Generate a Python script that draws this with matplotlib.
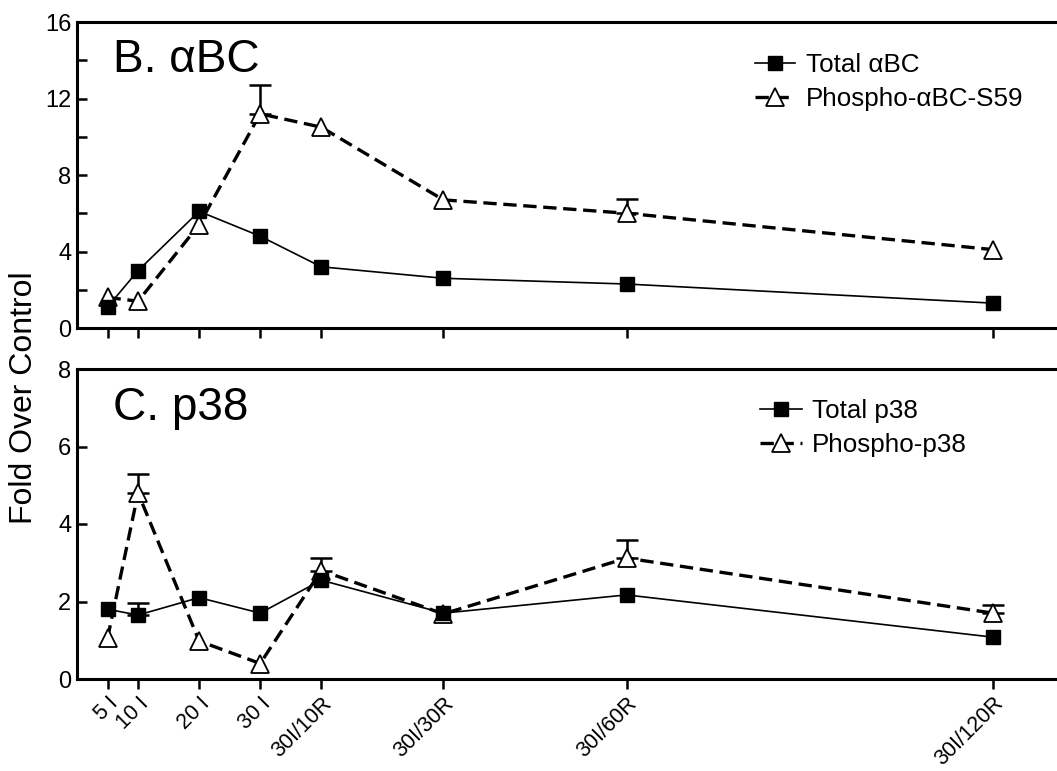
import numpy as np
import matplotlib
matplotlib.use('Agg')
import matplotlib.pyplot as plt

plt.rcParams['font.family'] = ['Liberation Sans', 'DejaVu Sans']

# time points in minutes (ischemia / reperfusion)
minutes = [5, 10, 20, 30, 40, 60, 90, 150]
tick_labels = ['5 I', '10 I', '20 I', '30 I', '30I/10R', '30I/30R', '30I/60R', '30I/120R']

# panel B: alpha B-crystallin
total_abc = [1.1, 3.0, 6.1, 4.8, 3.2, 2.6, 2.3, 1.3]
total_abc_err = [0, 0, 0, 0, 0, 0, 0, 0]
phospho_abc = [1.6, 1.4, 5.4, 11.2, 10.5, 6.7, 6.0, 4.1]
phospho_abc_err = [0, 0, 0, 1.5, 0, 0, 0.75, 0]

# panel C: p38
total_p38 = [1.8, 1.65, 2.1, 1.7, 2.55, 1.7, 2.17, 1.08]
total_p38_err = [0, 0.3, 0, 0, 0, 0, 0, 0]
phospho_p38 = [1.05, 4.8, 0.98, 0.4, 2.8, 1.68, 3.12, 1.7]
phospho_p38_err = [0, 0.5, 0, 0, 0.32, 0, 0.48, 0.2]


def draw_panel(ax, total, total_err, phos, phos_err, title, labels, ymax, major, minor):
    x = np.array(minutes)
    # error bars (upper only), drawn only where visible
    for vals, errs in ((phos, phos_err), (total, total_err)):
        vals = np.array(vals)
        errs = np.array(errs)
        m = errs > 0
        if m.any():
            ax.errorbar(x[m], vals[m], yerr=[np.zeros(m.sum()), errs[m]], fmt='none',
                        ecolor='black', elinewidth=1.8, capsize=8, capthick=1.8, zorder=2)
    lp, = ax.plot(x, phos, color='black', lw=2.4, marker='^', markersize=13,
                  markerfacecolor='white', markeredgecolor='black', markeredgewidth=1.3,
                  zorder=3, label=labels[1])
    lp.set_dashes([4, 2])
    lt, = ax.plot(x, total, color='black', lw=1.2, marker='s', markersize=10,
                  markerfacecolor='black', markeredgecolor='black', zorder=4, label=labels[0])

    ax.set_xlim(0, 160.5)
    ax.set_ylim(0, ymax)
    ax.set_yticks(np.arange(0, ymax + 0.1, major))
    if minor:
        ax.set_yticks(np.arange(minor, ymax, major), minor=True)
    ax.set_xticks(minutes)
    for s in ['left', 'top', 'bottom']:
        ax.spines[s].set_linewidth(2.2)
    ax.spines['right'].set_visible(False)
    ax.tick_params(axis='x', which='both', direction='out', length=7, width=1.8,
                   labelsize=15.5, pad=3)
    ax.tick_params(axis='y', which='both', direction='in', length=7, width=1.8,
                   labelsize=17, pad=4)
    ax.text(0.037, 0.835, title, transform=ax.transAxes, fontsize=33, ha='left',
            va='baseline')
    return lt, lp


fig = plt.figure(figsize=(10.57, 7.71), dpi=100)
ax1 = fig.add_axes([77 / 1057, 1 - 328 / 771, 1 - 77 / 1057, 306 / 771])
ax2 = fig.add_axes([77 / 1057, 1 - 679 / 771, 1 - 77 / 1057, 310 / 771])

h1 = draw_panel(ax1, total_abc, total_abc_err, phospho_abc, phospho_abc_err, 'B. αBC',
                ['Total αBC', 'Phospho-αBC-S59'], 16, 4, 2)
h2 = draw_panel(ax2, total_p38, total_p38_err, phospho_p38, phospho_p38_err, 'C. p38',
                ['Total p38', 'Phospho-p38'], 8, 2, 0)

ax1.set_xticklabels([])
ax2.set_xticklabels(tick_labels, rotation=45, ha='right', rotation_mode='anchor',
                    fontsize=15.5)

ax1.legend(handles=list(h1), loc='upper left', bbox_to_anchor=(755 / 1057, 1 - 53 / 771),
           bbox_transform=fig.transFigure, frameon=False, fontsize=18.7, numpoints=1,
           handlelength=1.55, handletextpad=0.4, labelspacing=0.38, borderpad=0,
           borderaxespad=0)
ax2.legend(handles=list(h2), loc='upper left', bbox_to_anchor=(760 / 1057, 1 - 399 / 771),
           bbox_transform=fig.transFigure, frameon=False, fontsize=18.7, numpoints=1,
           handlelength=1.6, handletextpad=0.4, labelspacing=0.38, borderpad=0,
           borderaxespad=0)

fig.text(24 / 1057, 0.484, 'Fold Over Control', rotation=90, ha='center', va='center',
         fontsize=23)

fig.savefig('out.png', dpi=100, facecolor='white')
